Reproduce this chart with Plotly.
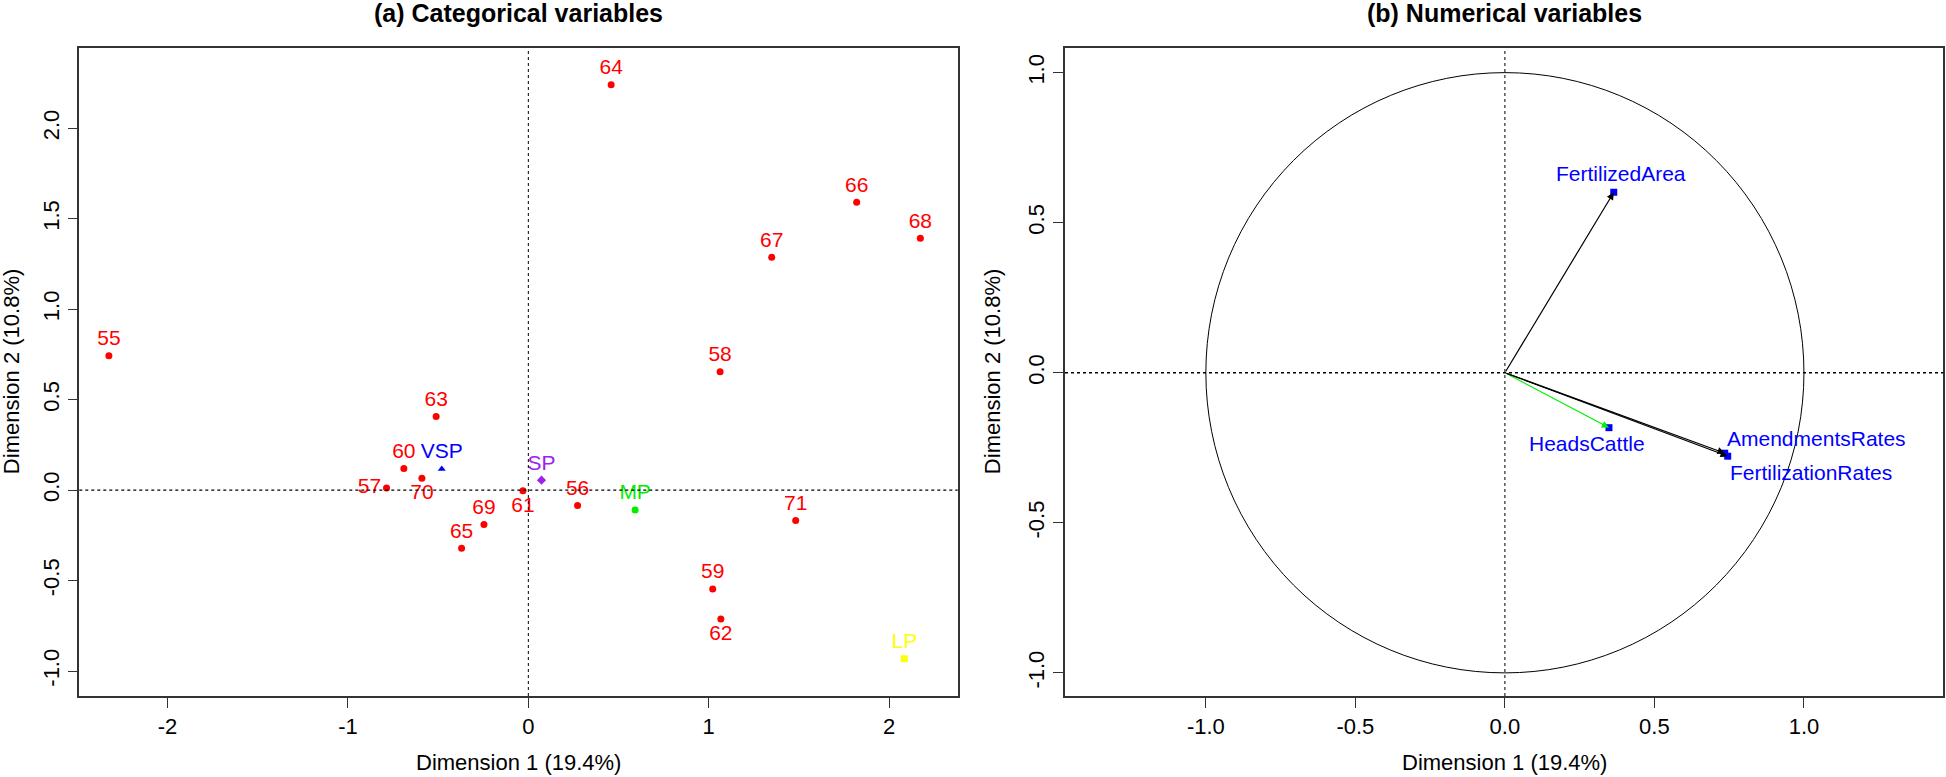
import plotly.graph_objects as go

# ---- Data: (a) categorical variables (individuals) ----
ind_labels = ["55", "56", "57", "58", "59", "60", "61", "62", "63", "64",
              "65", "66", "67", "68", "69", "70", "71"]
ind_dim1 = [-2.325, 0.273, -0.786, 1.063, 1.022, -0.690, -0.030, 1.067, -0.511, 0.459,
            -0.370, 1.820, 1.349, 2.173, -0.246, -0.590, 1.482]
ind_dim2 = [0.742, -0.085, 0.011, 0.654, -0.547, 0.120, -0.004, -0.713, 0.407, 2.241,
            -0.322, 1.591, 1.287, 1.392, -0.190, 0.065, -0.168]
ind_textpos = ["top center", "top center", "middle left", "top center", "top center",
               "top center", "bottom center", "bottom center", "top center", "top center",
               "top center", "top center", "top center", "top center", "top center",
               "bottom center", "top center"]

# categories of the categorical variable
cat_labels = ["VSP", "SP", "MP", "LP"]
cat_dim1 = [-0.480, 0.073, 0.592, 2.084]
cat_dim2 = [0.116, 0.055, -0.110, -0.932]
cat_colors = ["#0000FF", "#A020F0", "#00EE00", "#FFFF00"]
cat_symbols = ["triangle-up", "diamond", "circle", "square"]

# ---- Data: (b) numerical variables ----
num_labels = ["FertilizedArea", "HeadsCattle", "AmendmentsRates", "FertilizationRates"]
num_dim1 = [0.364, 0.348, 0.735, 0.745]
num_dim2 = [0.601, -0.183, -0.268, -0.278]
num_arrow_colors = ["#000000", "#00EE00", "#000000", "#000000"]

# tick values
x1_ticks = [-2, -1, 0, 1, 2]
y1_ticks = [-1.0, -0.5, 0.0, 0.5, 1.0, 1.5, 2.0]
x2_ticks = [-1.0, -0.5, 0.0, 0.5, 1.0]
y2_ticks = [-1.0, -0.5, 0.0, 0.5, 1.0]

W, H = 1946, 777
FONT = "Liberation Sans, Arial, sans-serif"

def px_x(p):
    return p / W

def px_y(p):
    return 1 - p / H

xdom1 = [px_x(79.3), px_x(957.7)]
xdom2 = [px_x(1065), px_x(1943.3)]
ydom = [px_y(696), px_y(48.3)]

fig = go.Figure()

# individuals
fig.add_trace(go.Scatter(
    x=ind_dim1, y=ind_dim2, mode="markers+text", text=ind_labels,
    textposition=ind_textpos,
    textfont=dict(color="#FF0000", size=21, family=FONT),
    marker=dict(color="#FF0000", size=7, symbol="circle"),
    xaxis="x", yaxis="y", showlegend=False, cliponaxis=False, hoverinfo="skip"))

# categories
fig.add_trace(go.Scatter(
    x=cat_dim1, y=cat_dim2, mode="markers+text", text=cat_labels,
    textposition="top center",
    textfont=dict(color=cat_colors, size=21, family=FONT),
    marker=dict(color=cat_colors, size=7, symbol=cat_symbols),
    xaxis="x", yaxis="y", showlegend=False, cliponaxis=False, hoverinfo="skip"))

# numerical variable endpoints
fig.add_trace(go.Scatter(
    x=num_dim1, y=num_dim2, mode="markers",
    marker=dict(color="#0000FF", size=7, symbol="square"),
    xaxis="x2", yaxis="y2", showlegend=False, hoverinfo="skip"))

annotations = []
# arrows
for xv, yv, col in zip(num_dim1, num_dim2, num_arrow_colors):
    annotations.append(dict(
        x=xv, y=yv, ax=0, ay=0, xref="x2", yref="y2", axref="x2", ayref="y2",
        text="", showarrow=True, arrowhead=2, arrowsize=1.2, arrowwidth=1.2,
        arrowcolor=col, standoff=0))

# variable labels (offsets in pixels)
num_label_style = [
    dict(xanchor="center", yanchor="bottom", xshift=7, yshift=5),
    dict(xanchor="center", yanchor="middle", xshift=-22, yshift=-16),
    dict(xanchor="left", yanchor="middle", xshift=0, yshift=15),
    dict(xanchor="left", yanchor="middle", xshift=0, yshift=-16),
]
for lab, xv, yv, st in zip(num_labels, num_dim1, num_dim2, num_label_style):
    annotations.append(dict(
        x=xv, y=yv, xref="x2", yref="y2", text=lab, showarrow=False,
        font=dict(color="#0000FF", size=21, family=FONT), **st))

# titles
annotations.append(dict(x=(xdom1[0] + xdom1[1]) / 2, y=px_y(13), xref="paper", yref="paper",
                        text="<b>(a) Categorical variables</b>", showarrow=False,
                        xanchor="center", yanchor="middle",
                        font=dict(size=25, family=FONT, color="black")))
annotations.append(dict(x=(xdom2[0] + xdom2[1]) / 2, y=px_y(13), xref="paper", yref="paper",
                        text="<b>(b) Numerical variables</b>", showarrow=False,
                        xanchor="center", yanchor="middle",
                        font=dict(size=25, family=FONT, color="black")))
# axis titles
for xd in (xdom1, xdom2):
    annotations.append(dict(x=(xd[0] + xd[1]) / 2, y=px_y(762), xref="paper", yref="paper",
                            text="Dimension 1 (19.4%)", showarrow=False,
                            xanchor="center", yanchor="middle",
                            font=dict(size=22, family=FONT, color="black")))
for xp in (11, 992):
    annotations.append(dict(x=px_x(xp), y=(ydom[0] + ydom[1]) / 2, xref="paper", yref="paper",
                            text="Dimension 2 (10.8%)", showarrow=False, textangle=-90,
                            xanchor="center", yanchor="middle",
                            font=dict(size=22, family=FONT, color="black")))

shapes = []
# reference lines
for xr, yr in (("x", "y"), ("x2", "y2")):
    shapes.append(dict(type="line", xref=xr, yref=yr + " domain", x0=0, x1=0, y0=0, y1=1,
                       line=dict(color="black", width=1, dash="dot")))
    shapes.append(dict(type="line", xref=xr + " domain", yref=yr, x0=0, x1=1, y0=0, y1=0,
                       line=dict(color="black", width=1.3, dash="dot")))
# unit circle
shapes.append(dict(type="circle", xref="x2", yref="y2", x0=-1, y0=-1, x1=1, y1=1,
                   line=dict(color="black", width=1)))

axis_common = dict(showgrid=False, zeroline=False, showline=True, mirror=True,
                   linecolor="#333333", linewidth=1.5, ticks="outside", ticklen=10,
                   tickwidth=1.2, tickcolor="#333333", automargin=False,
                   tickfont=dict(size=22, family=FONT, color="black"))

def labels(vals, fmt):
    return [format(v, fmt) for v in vals]

fig.update_layout(
    width=W, height=H, margin=dict(l=0, r=0, t=0, b=0),
    paper_bgcolor="white", plot_bgcolor="white", hovermode=False,
    xaxis=dict(domain=xdom1, range=[-2.489, 2.380], tickvals=x1_ticks,
               ticktext=labels(x1_ticks, "d"), anchor="y", **axis_common),
    yaxis=dict(domain=ydom, range=[-1.138, 2.442], tickvals=y1_ticks,
               ticktext=labels(y1_ticks, ".1f"), tickangle=-90, anchor="x", **axis_common),
    xaxis2=dict(domain=xdom2, range=[-1.471, 1.466], tickvals=x2_ticks,
                ticktext=labels(x2_ticks, ".1f"), anchor="y2", **axis_common),
    yaxis2=dict(domain=ydom, range=[-1.077, 1.081], tickvals=y2_ticks,
                ticktext=labels(y2_ticks, ".1f"), tickangle=-90, anchor="x2", **axis_common),
    annotations=annotations, shapes=shapes,
)

fig.write_html("out.html", config={"displayModeBar": False},
               post_script="document.body.style.margin='0';document.body.style.overflow='hidden';")
